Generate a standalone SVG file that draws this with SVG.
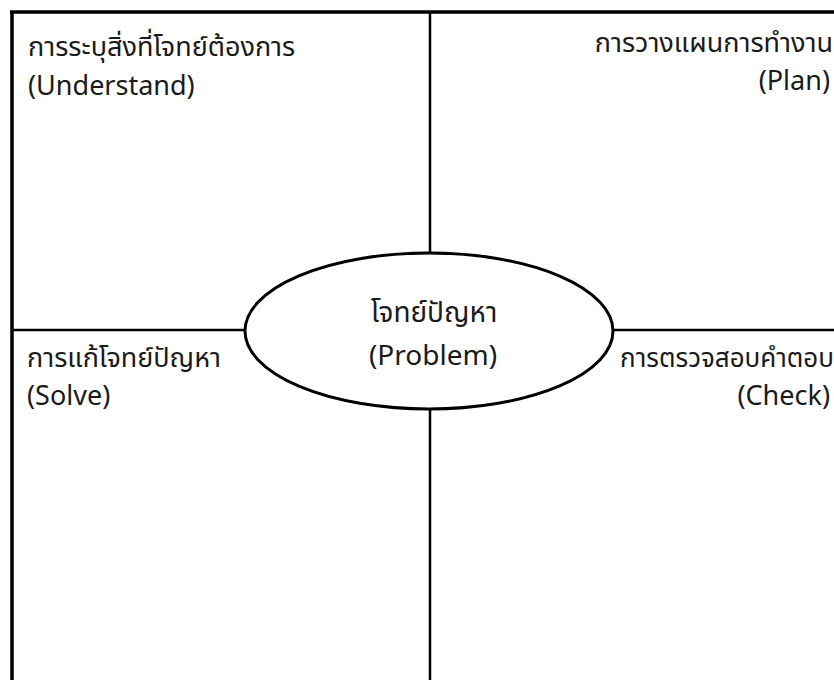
<svg xmlns="http://www.w3.org/2000/svg" width="834" height="680" viewBox="0 0 834 680">
<style>
.t{font-family:"Noto Sans Thai","Noto Sans","Open Sans",sans-serif;font-size:27px;fill:#1a1a1a}
.e{text-anchor:end}
.m{text-anchor:middle;font-size:28px}
.ln{stroke:#000;stroke-width:2.5;fill:none}
.bd{stroke:#000;stroke-width:3.5;fill:none}
</style>
<rect width="834" height="680" fill="#fff"/>
<g id="connectors">
<line class="bd" x1="10" y1="12" x2="834" y2="12"/>
<line class="bd" x1="12" y1="12" x2="12" y2="680"/>
<line class="ln" x1="430" y1="12" x2="430" y2="680"/>
<line class="ln" x1="12" y1="330" x2="834" y2="330"/>
</g>
<g id="problem">
<ellipse cx="429" cy="331" rx="184" ry="78" fill="#fff" stroke="#000" stroke-width="3"/>
<text class="t m" x="434" y="322">โจทย์ปัญหา</text>
<text class="t m" x="433" y="365">(Problem)</text>
</g>
<g id="understand">
<text class="t" x="28" y="56">การระบุสิ่งที่โจทย์ต้องการ</text>
<text class="t" x="28" y="95">(Understand)</text>
</g>
<g id="plan">
<text class="t e" x="833" y="52">การวางแผนการทำงาน</text>
<text class="t e" x="830" y="90">(Plan)</text>
</g>
<g id="solve">
<text class="t" x="27" y="367">การแก้โจทย์ปัญหา</text>
<text class="t" x="27" y="405">(Solve)</text>
</g>
<g id="check">
<text class="t e" x="834" y="367" style="font-size:26px">การตรวจสอบคำตอบ</text>
<text class="t e" x="830" y="405">(Check)</text>
</g>
</svg>
